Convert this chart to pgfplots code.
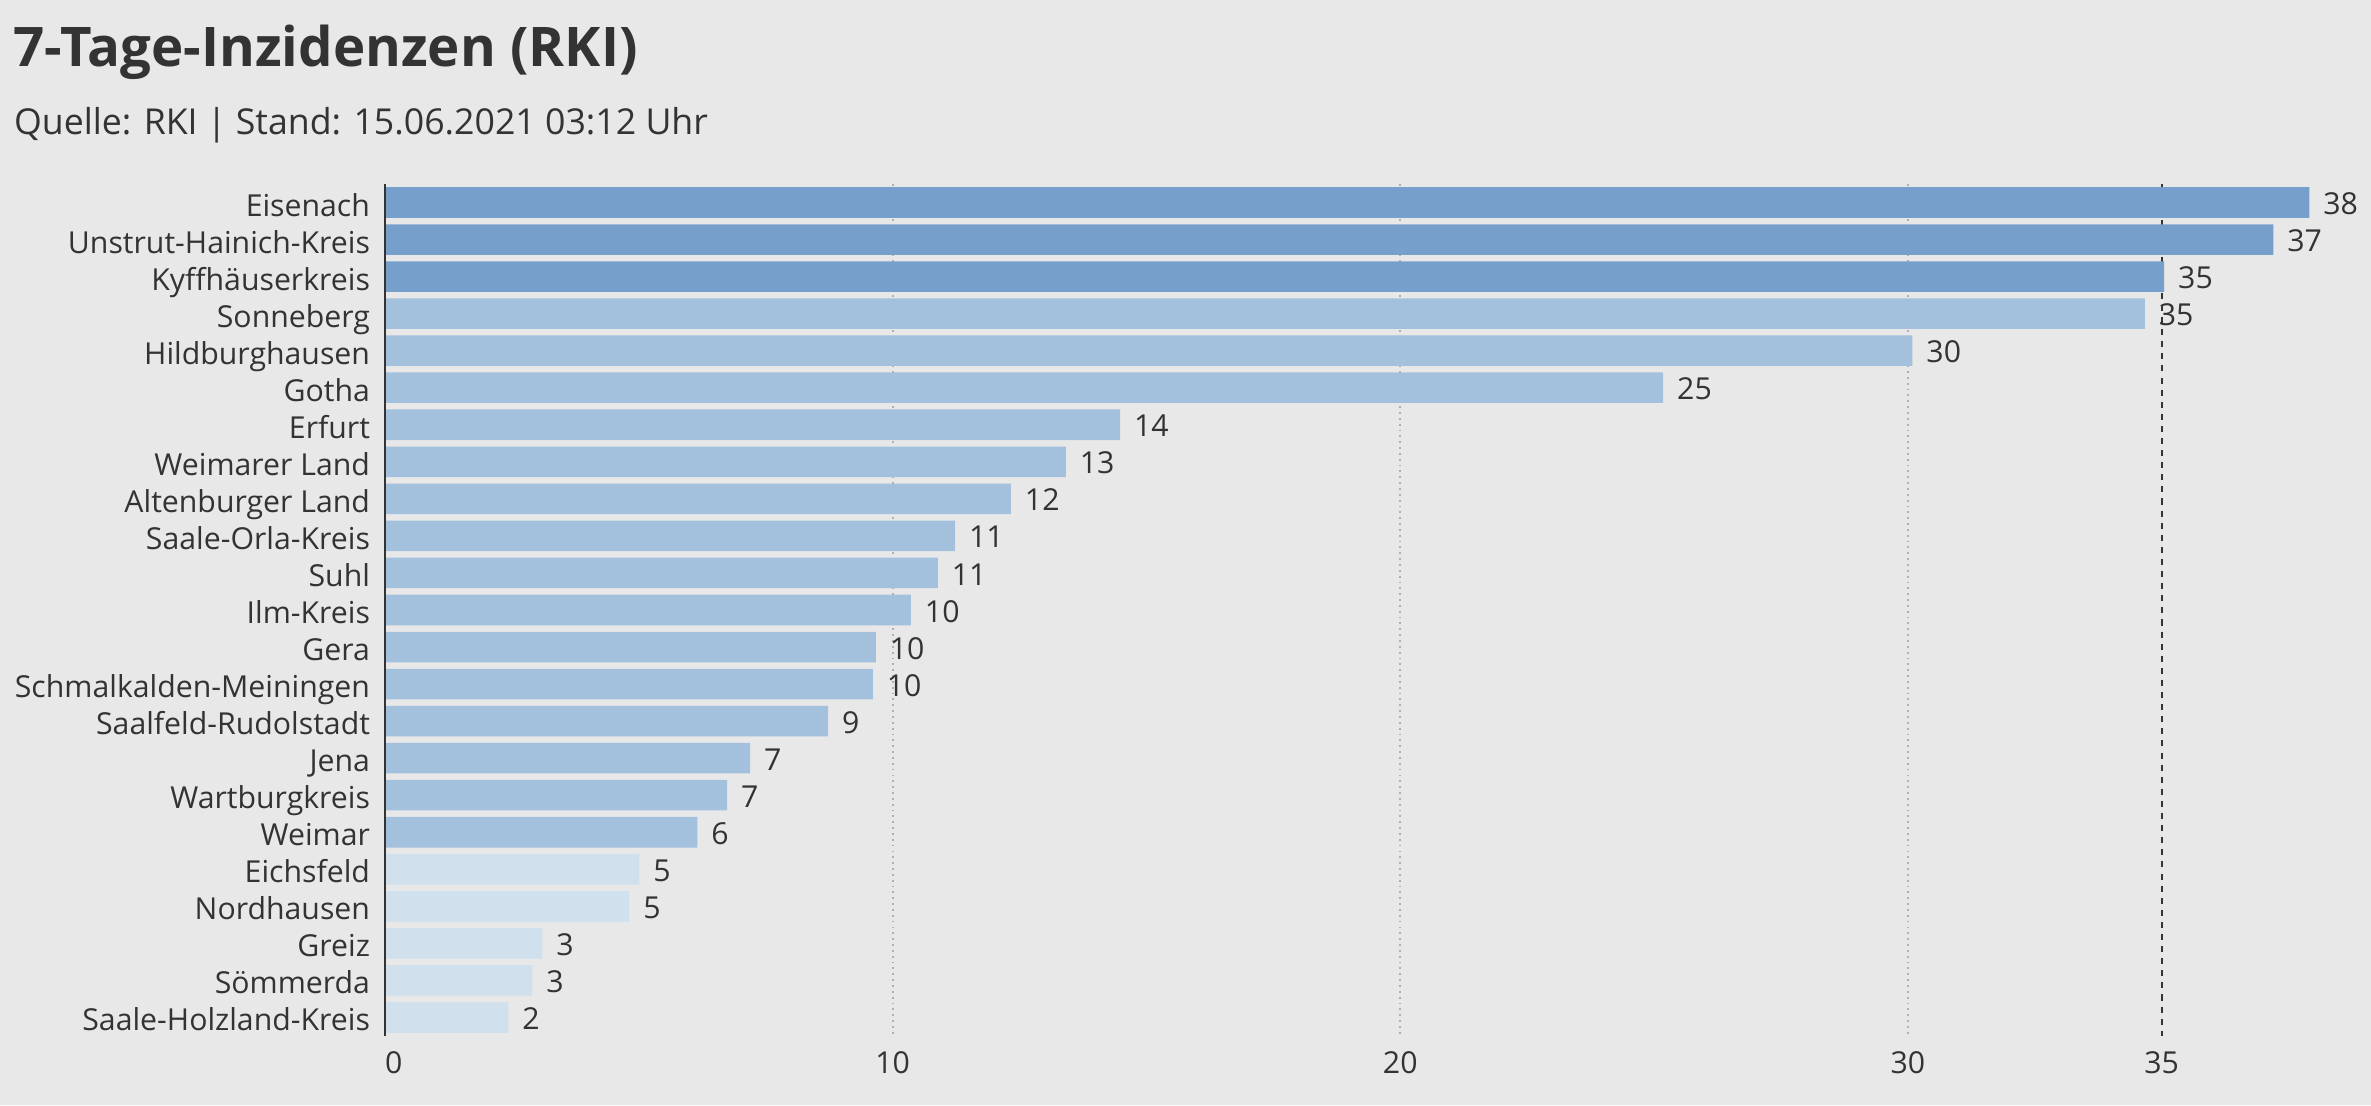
\documentclass[border=0pt]{standalone}
\usepackage{fontspec}
\setmainfont{Open Sans}
\usepackage{pgfplots}
\pgfplotsset{compat=1.18}
\usepackage{pgfplotstable}
\definecolor{bg}{HTML}{E8E8E8}
\definecolor{txt}{HTML}{333333}
\definecolor{cdark}{HTML}{76A0CB}
\definecolor{cmid}{HTML}{A3C0DC}
\definecolor{clight}{HTML}{D0E0ED}
\definecolor{gridc}{HTML}{B0B0B0}

\pgfplotstableread{
y x lab
0 37.91 38
1 37.20 37
2 35.05 35
}\darkdata
\pgfplotstableread{
y x lab
3 34.67 35
4 30.09 30
5 25.18 25
6 14.48 14
7 13.41 13
8 12.33 12
9 11.23 11
10 10.89 11
11 10.36 10
12 9.67 10
13 9.61 10
14 8.73 9
15 7.19 7
16 6.74 7
17 6.15 6
}\middata
\pgfplotstableread{
y x lab
18 5.01 5
19 4.81 5
20 3.10 3
21 2.90 3
22 2.43 2
}\lightdata

\begin{document}
\begin{tikzpicture}
\useasboundingbox (0,0) rectangle (1176pt,548.25pt);
\fill[bg] (0,0) rectangle (1176pt,548.25pt);
\node[anchor=base west, inner sep=0pt, font=\fontsize{27.1}{31}\selectfont\bfseries, text=txt] at (6.5pt,515.2pt) {7-Tage-Inzidenzen (RKI)};
\node[anchor=base west, inner sep=0pt, font=\fontsize{17.7}{21}\selectfont, text=txt] at (6.8pt,481.3pt) {Quelle: RKI | Stand: 15.06.2021 03:12 Uhr};
\begin{axis}[
  at={(191pt,34.4pt)}, anchor=south west,
  scale only axis, width=956.7pt, height=422.6pt,
  xmin=0, xmax=38, ymin=-0.5, ymax=22.5, y dir=reverse,
  xbar, bar width=0.825, bar shift=0pt,
  clip=false,
  axis line style={draw=none},
  major tick length=0pt,
  tick style={draw=none},
  /pgf/number format/assume math mode=true,
  xtick={0,10,20,30,35},
  xticklabels={\makebox[0pt][l]{0},10,20,30,35},
  xmajorgrids=false,
  x tick label style={font=\fontsize{15}{17}\selectfont, text=txt, anchor=base, inner sep=0pt, yshift=-18.6pt},
  ytick={0,...,22},
  yticklabels={Eisenach,Unstrut-Hainich-Kreis,Kyffhäuserkreis,Sonneberg,Hildburghausen,Gotha,Erfurt,Weimarer Land,Altenburger Land,Saale-Orla-Kreis,Suhl,Ilm-Kreis,Gera,Schmalkalden-Meiningen,Saalfeld-Rudolstadt,Jena,Wartburgkreis,Weimar,Eichsfeld,Nordhausen,Greiz,Sömmerda,Saale-Holzland-Kreis},
  y tick label style={font=\fontsize{15}{17}\selectfont, text=txt, anchor=base east, inner sep=0pt, xshift=-7.3pt, yshift=-6.7pt},
  nodes near coords,
  point meta=explicit,
  every node near coord/.append style={font=\fontsize{15}{17}\selectfont, text=txt, anchor=base west, inner sep=0pt, xshift=6.75pt, yshift=-6pt},
]
\draw[gridc, dotted, line width=0.9pt] (axis cs:10,-0.5) -- (axis cs:10,22.5);
\draw[gridc, dotted, line width=0.9pt] (axis cs:20,-0.5) -- (axis cs:20,22.5);
\draw[gridc, dotted, line width=0.9pt] (axis cs:30,-0.5) -- (axis cs:30,22.5);
\draw[txt, dash pattern=on 3pt off 3pt, line width=0.9pt] (axis cs:35,-0.5) -- (axis cs:35,22.5);
\addplot[fill=cdark, draw=none] table[x=x, y=y, meta=lab] {\darkdata};
\addplot[fill=cmid, draw=none] table[x=x, y=y, meta=lab] {\middata};
\addplot[fill=clight, draw=none] table[x=x, y=y, meta=lab] {\lightdata};
\draw[txt, line width=0.9pt] (axis cs:0,-0.5) -- (axis cs:0,22.5);
\end{axis}
\end{tikzpicture}
\end{document}
